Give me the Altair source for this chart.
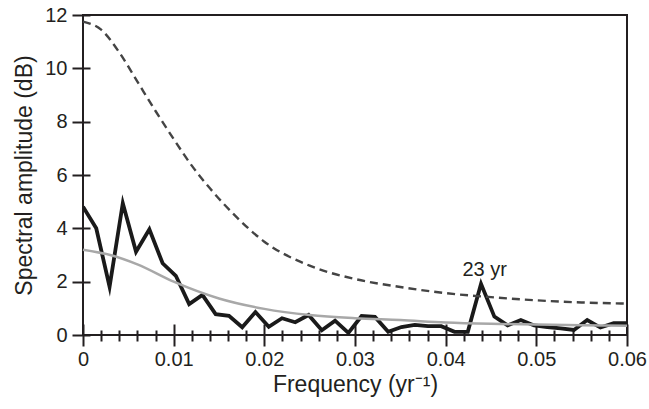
import altair as alt
import pandas as pd

# Spectrum (black line)
freq = [0, 0.00146, 0.00293, 0.00439, 0.00585, 0.00732, 0.00878, 0.01024, 0.01171, 0.01317,
        0.01463, 0.0161, 0.01756, 0.01902, 0.02049, 0.02195, 0.02341, 0.02488, 0.02634, 0.0278,
        0.02927, 0.03073, 0.0322, 0.03366, 0.03512, 0.03659, 0.03805, 0.03951, 0.04098, 0.04244,
        0.0439, 0.04537, 0.04683, 0.04829, 0.04976, 0.05122, 0.05268, 0.05415, 0.05561, 0.05707,
        0.05854, 0.06]
amp = [4.81, 4.0, 1.81, 4.94, 3.12, 3.96, 2.69, 2.22, 1.16, 1.5,
       0.78, 0.72, 0.29, 0.86, 0.31, 0.63, 0.48, 0.75, 0.18, 0.54,
       0.08, 0.71, 0.68, 0.12, 0.3, 0.38, 0.33, 0.33, 0.12, 0.12,
       1.92, 0.69, 0.36, 0.56, 0.36, 0.3, 0.25, 0.19, 0.56, 0.28,
       0.44, 0.44]

# Red-noise background (grey line)
bg_x = [0, 0.003, 0.006, 0.01, 0.015, 0.02, 0.025, 0.03, 0.035, 0.04, 0.045, 0.05, 0.055, 0.06]
bg_y = [3.2, 3.0, 2.65, 2.0, 1.37, 0.98, 0.75, 0.63, 0.56, 0.47, 0.42, 0.39, 0.37, 0.35]

# Significance level (dashed line)
sig_x = [0, 0.002, 0.004, 0.006, 0.008, 0.010, 0.012, 0.014, 0.017, 0.020, 0.025, 0.030,
         0.035, 0.040, 0.045, 0.050, 0.055, 0.060]
sig_y = [11.75, 11.45, 10.6, 9.5, 8.4, 7.35, 6.35, 5.5, 4.4, 3.5, 2.6, 2.1,
         1.8, 1.57, 1.42, 1.3, 1.22, 1.18]

# Ticks
major_x = [0, 0.01, 0.02, 0.03, 0.04, 0.05, 0.06]
minor_x = [0.002, 0.004, 0.006, 0.008, 0.012, 0.014, 0.016, 0.018, 0.022, 0.024, 0.026, 0.028,
           0.032, 0.034, 0.036, 0.038, 0.042, 0.044, 0.046, 0.048, 0.052, 0.054, 0.056, 0.058]
y_ticks = [0, 2, 4, 6, 8, 10, 12]

ann_text = ["23 yr"]
ann_x = [0.0443]
ann_y = [2.2]

FONT = "Liberation Sans"
INK = "#231f20"

spec_df = pd.DataFrame({"f": freq, "a": amp})
bg_df = pd.DataFrame({"f": bg_x, "a": bg_y})
sig_df = pd.DataFrame({"f": sig_x, "a": sig_y})
ann_df = pd.DataFrame({"f": ann_x, "a": ann_y, "t": ann_text})

xscale = alt.Scale(domain=[0, 0.06], nice=False, zero=False)
yscale = alt.Scale(domain=[0, 12], nice=False)

y_axis = alt.Axis(values=y_ticks, tickSize=18, offset=-7, tickWidth=2, tickColor=INK,
                  domain=False, grid=False, labelPadding=5, labelFontSize=20,
                  labelColor=INK, labelFont=FONT, labelFlush=False,
                  title="Spectral amplitude (dB)", titleFontSize=23, titleFont=FONT,
                  titleFontWeight="normal", titleColor=INK, titlePadding=8)
y_enc = alt.Y("a:Q", scale=yscale, axis=y_axis)

major_axis = alt.Axis(values=major_x, orient="bottom", tickSize=22, offset=-11, tickWidth=2,
                      tickColor=INK, domain=False, grid=False, labelPadding=3,
                      labelFontSize=20, labelColor=INK, labelFont=FONT, labelFlush=False,
                      labelOverlap=False,
                      labelExpr="datum.value == 0 ? '0' : format(datum.value, '.2f')",
                      title="Frequency (yr\u207b\u00b9)", titleFontSize=23, titleFont=FONT,
                      titleFontWeight="normal", titleColor=INK, titlePadding=4)
minor_axis = alt.Axis(values=minor_x, orient="bottom", tickSize=11, offset=-5, tickWidth=2,
                      tickColor=INK, domain=False, grid=False, labels=False, title=None)

spec = alt.Chart(spec_df).mark_line(color="#1a1a1a", strokeWidth=3.8, strokeJoin="miter",
                                     strokeMiterLimit=10, clip=True).encode(
    x=alt.X("f:Q", scale=xscale, axis=major_axis), y=y_enc)

bg = alt.Chart(bg_df).mark_line(color="#a8a8a8", strokeWidth=2.5, interpolate="monotone").encode(
    x=alt.X("f:Q", scale=xscale, axis=minor_axis), y=y_enc)

sig = alt.Chart(sig_df).mark_line(color="#444444", strokeWidth=2.4, strokeDash=[8, 5],
                                   interpolate="monotone").encode(
    x=alt.X("f:Q", scale=xscale, axis=None), y=y_enc)

ann = alt.Chart(ann_df).mark_text(fontSize=20, font=FONT, color=INK, baseline="alphabetic",
                                   align="center").encode(
    x=alt.X("f:Q", scale=xscale, axis=None), y=y_enc, text="t:N")

chart = alt.layer(spec, bg, sig, ann).resolve_axis(x="independent").properties(
    width=544, height=320,
    autosize=alt.AutoSizeParams(type="none"),
    padding={"left": 83, "top": 15, "right": 22, "bottom": 74},
).configure(font=FONT, background="white").configure_view(stroke=INK, strokeWidth=2)

chart.save("out.html", embed_options={"renderer": "svg", "actions": False})
